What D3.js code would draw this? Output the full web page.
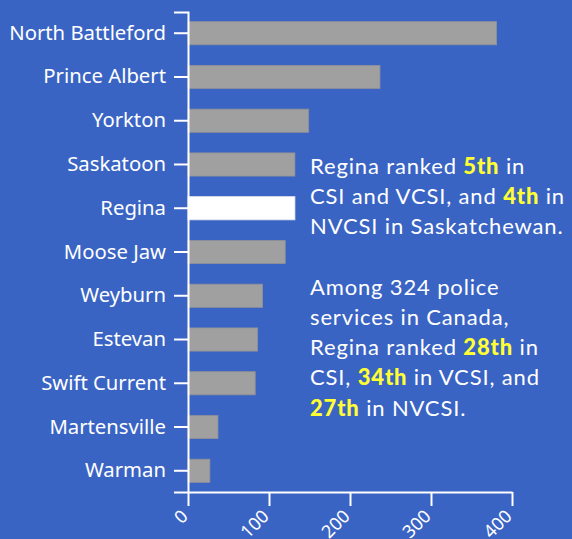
<!DOCTYPE html>
<html>
<head>
<meta charset="utf-8">
<script src="https://cdn.jsdelivr.net/npm/d3@7"></script>
<style>
  html, body { margin: 0; padding: 0; background: #3a64c4; }
  svg { display: block; }
</style>
</head>
<body>
<svg id="chart" width="572" height="539"></svg>
<script>
// Crime severity index by police service (Saskatchewan)
const cities = ['North Battleford', 'Prince Albert', 'Yorkton', 'Saskatoon', 'Regina',
  'Moose Jaw', 'Weyburn', 'Estevan', 'Swift Current', 'Martensville', 'Warman'];
const csiValues = [381, 237, 149, 132, 132, 120, 92, 86, 83, 37, 27];
const xTicks = [0, 100, 200, 300, 400];
const highlight = 'Regina';

// annotation text, as runs of [text, isHighlight]
const noteLines = [
  [['Regina ranked ', false], ['5th', true], [' in', false]],
  [['CSI and VCSI, and ', false], ['4th', true], [' in', false]],
  [['NVCSI in Saskatchewan.', false]],
  null,
  [['Among 324 police', false]],
  [['services in Canada,', false]],
  [['Regina ranked ', false], ['28th', true], [' in', false]],
  [['CSI, ', false], ['34th', true], [' in VCSI, and', false]],
  [['27th', true], [' in NVCSI.', false]]
];

const data = cities.map((c, i) => ({ city: c, value: csiValues[i] }));

const svg = d3.select('#chart');
const margin = { left: 188, top: 12 };
const innerW = 324;
const innerH = 480;
const labelFont = '"Noto Sans", "Open Sans", sans-serif';

const chart = svg.append('g')
  .attr('transform', `translate(${margin.left},${margin.top})`);

const x = d3.scaleLinear().domain([0, 400]).range([0, innerW]);
const y = d3.scaleBand()
  .domain(cities)
  .range([0, innerH])
  .paddingInner(0.47)
  .paddingOuter(0.22);

// bars
chart.selectAll('.bar')
  .data(data)
  .enter()
  .append('rect')
  .attr('class', 'bar')
  .attr('x', 0)
  .attr('y', d => y(d.city))
  .attr('width', d => x(d.value))
  .attr('height', y.bandwidth())
  .attr('fill', d => d.city === highlight ? '#ffffff' : '#a0a0a0')
  .attr('stroke', d => d.city === highlight ? '#e8e8f0' : '#8f8f96')
  .attr('stroke-width', 0.8);

// axes
const yAxis = chart.append('g')
  .call(d3.axisLeft(y).tickSize(14).tickPadding(8));

const xAxis = chart.append('g')
  .attr('transform', `translate(0,${innerH})`)
  .call(d3.axisBottom(x).tickValues(xTicks).tickSize(14).tickSizeOuter(0));

[yAxis, xAxis].forEach(ax => {
  ax.select('.domain').attr('stroke', '#ffffff').attr('stroke-width', 2);
  ax.selectAll('.tick line').attr('stroke', '#ffffff').attr('stroke-width', 2);
});

yAxis.selectAll('text')
  .attr('fill', '#ffffff')
  .style('font-family', labelFont)
  .style('font-size', '20.3px');

xAxis.selectAll('text')
  .attr('fill', '#ffffff')
  .style('font-family', labelFont)
  .style('font-size', '18px')
  .style('text-anchor', 'end')
  .attr('x', 0)
  .attr('y', 0)
  .attr('dy', '0.35em')
  .attr('transform', 'translate(-4,21) rotate(-45)');

// annotation
const note = svg.append('text')
  .attr('fill', '#ffffff')
  .style('font-family', 'Lato, "Open Sans", sans-serif')
  .style('font-size', '22px')
  .style('letter-spacing', '0.85px');

const noteX = 310;
const noteY0 = 174;
const lineH = 30.2;
noteLines.forEach((line, i) => {
  if (!line) return;
  line.forEach((run, j) => {
    const t = note.append('tspan').text(run[0]);
    if (j === 0) t.attr('x', noteX).attr('y', noteY0 + i * lineH);
    if (run[1]) t.attr('fill', '#ffff33').attr('font-weight', '900');
  });
});
</script>
</body>
</html>
